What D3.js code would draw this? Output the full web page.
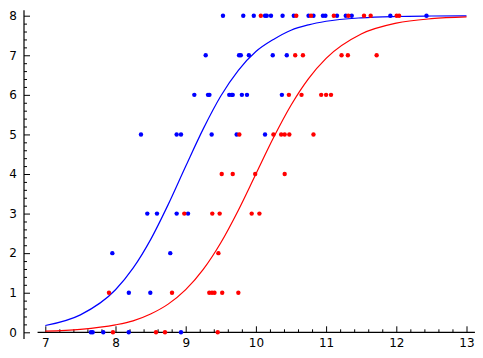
<!DOCTYPE html>
<html>
<head>
<meta charset="utf-8">
<script src="https://cdn.jsdelivr.net/npm/d3@7"></script>
<style>
  body { margin: 0; background: #fff; }
  svg text { font-family: "DejaVu Sans", sans-serif; font-size: 12px; fill: #000; }
</style>
</head>
<body>
<svg id="chart"></svg>
<script>
// Constant Values
const width = 483;
const height = 358;

// Tick values
const xMajor = [7, 8, 9, 10, 11, 12, 13];
const yMajor = [0, 1, 2, 3, 4, 5, 6, 7, 8];

// Fitted curves
const curveX = [7, 7.5, 8, 8.25, 8.5, 8.75, 9, 9.25, 9.5, 9.75, 10, 10.25, 10.5, 10.75, 11, 11.5, 12, 12.5, 13];
const blueCurve = [0.171, 0.441, 1.075, 1.62, 2.342, 3.226, 4.195, 5.14, 5.97, 6.62, 7.094, 7.40, 7.634, 7.77, 7.859, 7.946, 7.98, 7.992, 7.997];
const redCurve = [0.030, 0.076, 0.189, 0.29, 0.463, 0.712, 1.078, 1.589, 2.263, 3.086, 4.0, 4.914, 5.737, 6.411, 6.922, 7.537, 7.811, 7.924, 7.97];

// Observations [x, level]
const bluePoints = [
  [7.65, 0], [7.675, 0], [7.826, 0], [8.188, 0], [8.933, 0],
  [8.19, 1], [8.496, 1],
  [7.955, 2], [8.78, 2],
  [8.453, 3], [8.591, 3], [8.871, 3], [9.033, 3],
  [8.363, 5], [8.871, 5], [8.933, 5], [9.37, 5], [9.726, 5], [10.13, 5],
  [9.123, 6], [9.318, 6], [9.338, 6], [9.62, 6], [9.655, 6], [9.67, 6], [9.80, 6], [9.873, 6], [10.37, 6],
  [9.285, 7], [9.76, 7], [9.785, 7], [9.90, 7], [10.24, 7], [10.44, 7],
  [9.531, 8], [9.82, 8], [9.97, 8], [10.13, 8], [10.155, 8], [10.215, 8], [10.38, 8], [10.54, 8],
  [10.75, 8], [10.82, 8], [10.955, 8], [10.99, 8], [11.155, 8], [11.28, 8], [11.365, 8], [11.915, 8], [12.43, 8]
];
const redPoints = [
  [7.964, 0], [8.577, 0], [8.705, 0], [9.456, 0],
  [7.907, 1], [8.805, 1], [9.336, 1], [9.375, 1], [9.41, 1], [9.52, 1], [9.75, 1],
  [9.466, 2],
  [8.98, 3], [9.379, 3], [9.484, 3], [9.94, 3], [10.05, 3],
  [9.513, 4], [9.67, 4], [9.99, 4], [10.41, 4],
  [9.764, 5], [10.25, 5], [10.36, 5], [10.41, 5], [10.476, 5], [10.82, 5],
  [10.47, 6], [10.65, 6], [10.93, 6], [11.0, 6], [11.07, 6],
  [10.56, 7], [10.67, 7], [11.22, 7], [11.31, 7], [11.72, 7],
  [10.07, 8], [10.575, 8], [10.785, 8], [11.11, 8], [11.317, 8], [11.54, 8], [11.635, 8], [12.005, 8], [12.04, 8]
];

const svg = d3.select("#chart")
  .attr("width", width)
  .attr("height", height);

// Scales
const xScale = d3.scaleLinear().domain([7, 13]).range([45.3, 466.5]);
const yScale = d3.scaleLinear().domain([0, 8]).range([332.3, 15.7]);
const axisX = 24;

// Axis lines
svg.append("line")
  .attr("x1", xScale(6.89)).attr("x2", xScale(13.12))
  .attr("y1", yScale(0)).attr("y2", yScale(0))
  .attr("stroke", "#000").attr("stroke-width", 1.2);
svg.append("line")
  .attr("x1", axisX).attr("x2", axisX)
  .attr("y1", yScale(8.14)).attr("y2", yScale(-0.17))
  .attr("stroke", "#000").attr("stroke-width", 1.2);

// Minor ticks
const xMinor = d3.range(7, 13.001, 0.2).filter(v => Math.abs(v - Math.round(v)) > 0.01);
const yMinor = d3.range(0, 8.001, 0.2).filter(v => Math.abs(v - Math.round(v)) > 0.01);

svg.append("g")
  .attr("transform", `translate(0, ${yScale(0)})`)
  .call(d3.axisBottom(xScale).tickValues(xMinor).tickSize(-3).tickFormat(""))
  .call(g => g.select(".domain").remove());
svg.append("g")
  .attr("transform", `translate(${axisX}, 0)`)
  .call(d3.axisLeft(yScale).tickValues(yMinor).tickSize(-3).tickFormat(""))
  .call(g => g.select(".domain").remove());

// Major ticks and labels
svg.append("g")
  .attr("transform", `translate(0, ${yScale(0)})`)
  .call(d3.axisBottom(xScale).tickValues(xMajor).tickSize(-6).tickPadding(6).tickFormat(d3.format("d")))
  .call(g => g.select(".domain").remove())
  .call(g => g.selectAll("text").attr("font-size", 12).attr("font-family", "DejaVu Sans"));
svg.append("g")
  .attr("transform", `translate(${axisX}, 0)`)
  .call(d3.axisLeft(yScale).tickValues(yMajor).tickSize(-6).tickPadding(7).tickFormat(d3.format("d")))
  .call(g => g.select(".domain").remove())
  .call(g => g.selectAll("text").attr("font-size", 12).attr("font-family", "DejaVu Sans"));

svg.selectAll(".tick line").attr("stroke", "#000").attr("stroke-width", 1);

// Curves
const line = d3.line()
  .x(d => xScale(d[0]))
  .y(d => yScale(d[1]))
  .curve(d3.curveMonotoneX);

svg.append("path")
  .datum(curveX.map((x, i) => [x, blueCurve[i]]))
  .attr("d", line)
  .attr("fill", "none").attr("stroke", "#0000ff").attr("stroke-width", 1.2);
svg.append("path")
  .datum(curveX.map((x, i) => [x, redCurve[i]]))
  .attr("d", line)
  .attr("fill", "none").attr("stroke", "#ff0000").attr("stroke-width", 1.2);

// Points
svg.selectAll(".blue-dot")
  .data(bluePoints)
  .enter()
  .append("circle")
  .attr("class", "blue-dot")
  .attr("cx", d => xScale(d[0]))
  .attr("cy", d => yScale(d[1]))
  .attr("r", 2.2)
  .attr("fill", "#0000ff");

svg.selectAll(".red-dot")
  .data(redPoints)
  .enter()
  .append("circle")
  .attr("class", "red-dot")
  .attr("cx", d => xScale(d[0]))
  .attr("cy", d => yScale(d[1]))
  .attr("r", 2.2)
  .attr("fill", "#ff0000");
</script>
</body>
</html>
